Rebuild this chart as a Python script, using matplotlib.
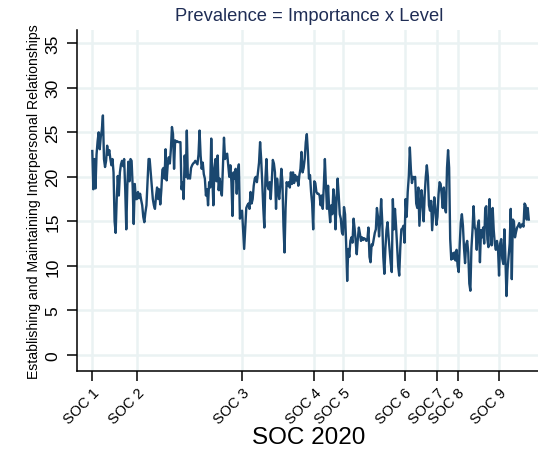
import numpy as np
import matplotlib
matplotlib.use("Agg")
import matplotlib.pyplot as plt

plt.rcParams['font.family'] = ['Liberation Sans', 'DejaVu Sans']

# Prevalence scores for each SOC 2020 unit group, ordered by code, one list per major group
soc1 = [22.9, 18.6, 22.0, 18.7, 22.5, 24.0, 25.0, 23.1, 24.5, 25.3, 26.9, 22.0, 21.1, 21.8,
        23.5, 22.5, 23.0, 22.0, 21.3, 22.0, 20.5, 15.0, 13.7, 17.5, 20.1, 17.9, 20.5, 21.4,
        21.8, 21.2, 22.0, 18.6, 14.1, 19.0, 21.7, 19.5, 22.0, 21.8, 19.0, 14.7, 19.2, 17.5]
soc2 = [17.5, 18.3, 17.6, 18.1, 17.4, 16.8, 15.5, 14.9, 16.0, 16.8, 19.5, 22.0,
        22.0, 20.5, 19.0, 17.5, 16.8, 16.4, 17.8, 18.8, 17.5, 18.6, 16.9, 18.5, 20.8, 21.0,
        19.8, 23.1, 19.6, 21.3, 22.2, 21.5, 23.1, 25.6, 24.8, 20.9, 24.1, 23.9, 24.0, 23.9,
        23.9, 23.9, 18.6, 19.4, 17.5, 22.4, 20.0, 25.2, 19.8, 20.2, 19.8, 21.0, 21.3, 21.5,
        21.6, 21.8, 21.6, 21.4, 22.5, 25.2, 22.4, 20.9, 21.6, 20.3, 19.8, 17.9, 18.6, 16.8,
        19.4, 18.8, 24.3,
        20.0, 16.8, 21.0, 22.0, 19.5, 22.4, 18.5, 19.8, 18.5, 17.9, 21.3, 24.4, 22.0, 22.5,
        22.6, 21.3, 20.0, 21.3, 19.4, 15.6, 20.5, 19.8, 20.9, 18.1, 20.5, 21.4, 15.3, 16.0]
soc3 = [16.2, 14.0, 11.9, 14.1, 16.5, 16.8, 17.0, 16.4, 18.3, 17.0, 17.5, 19.0, 19.8, 20.0,
        19.4, 20.5, 21.6, 23.9, 22.0, 19.4, 16.5, 14.3, 19.8, 22.0, 19.0, 18.6, 19.4, 17.5,
        19.5, 21.9, 21.5, 20.5, 16.4, 19.8,
        18.5, 17.5, 19.0, 20.9, 19.5, 14.5, 11.5, 16.5, 19.4, 19.0, 19.4, 18.8, 20.5, 19.2,
        20.5, 19.3, 20.2, 19.6, 20.0, 19.0, 20.2, 20.9, 22.8, 20.5, 21.0, 22.0, 23.9, 24.8,
        22.8, 19.8, 20.2, 18.3, 17.0, 14.1]
soc4 = [19.5, 19.3, 18.3, 18.1, 18.1, 17.9, 16.8, 17.9, 16.4, 19.0, 22.0, 19.0, 16.4, 19.0,
        16.4, 14.9, 16.8, 15.8, 18.6, 17.5, 14.1, 17.5, 19.8, 18.0, 15.8, 15.3, 13.8]
soc5 = [13.5, 16.6, 15.8, 12.6, 8.3, 11.9, 11.0, 12.8, 13.2, 12.6, 15.3, 14.2, 12.8, 11.3,
        13.0, 14.3, 13.6, 12.8, 13.2, 12.9, 13.1, 13.0, 12.8, 12.9, 14.3, 11.0, 10.4, 12.4,
        12.3, 13.0, 13.7, 14.1, 16.5, 15.5, 13.3, 15.0, 17.5, 15.0, 11.0, 9.1, 12.0, 14.0,
        14.9, 13.2, 11.8, 10.3, 9.3, 17.5, 14.1, 16.4, 14.5, 12.3, 10.0, 8.9, 12.0, 14.1,
        14.2, 14.5]
soc6 = [12.6, 17.5, 15.5, 18.3, 20.0, 23.3, 20.8, 19.3, 20.0, 19.8, 20.0, 17.0, 16.5, 18.8,
        14.5, 16.5, 18.5, 17.2, 15.0, 18.0, 20.0, 21.3, 20.0, 16.8, 16.2, 17.3, 14.0, 15.8,
        17.7, 16.5, 14.6]
soc7 = [15.5, 18.0, 19.4, 19.2, 18.0, 16.5, 18.8, 16.5, 16.0, 21.0, 23.0, 21.0, 13.0, 10.7,
        11.4, 10.8, 11.5, 10.6, 11.8]
soc8 = [10.0, 9.3, 12.5, 14.9, 15.8, 14.5, 12.0, 10.3, 12.4, 12.8, 11.5, 8.0, 7.2, 12.0,
        14.0, 16.7, 14.4, 14.0, 11.8, 14.5, 15.1, 10.4, 14.0, 13.2, 14.3, 12.5, 16.5, 16.7,
        13.0, 12.1, 17.5, 14.5, 12.3, 16.5, 14.0, 12.5, 11.8, 12.8, 12.0]
soc9 = [8.9, 12.5, 13.0, 10.8, 10.2, 14.1, 10.8, 6.6, 9.6, 11.0, 12.5, 16.4, 8.5, 15.2,
        15.0, 13.2, 13.8, 14.3, 14.5, 14.8, 14.3, 14.5, 14.7, 14.4, 17.0, 16.8, 15.2, 16.5,
        15.2]

groups = [soc1, soc2, soc3, soc4, soc5, soc6, soc7, soc8, soc9]
group_labels = ["SOC 1", "SOC 2", "SOC 3", "SOC 4", "SOC 5",
                "SOC 6", "SOC 7", "SOC 8", "SOC 9"]
y_ticks = [0, 5, 10, 15, 20, 25, 30, 35]

values = np.concatenate([np.asarray(g, dtype=float) for g in groups])
rank = np.arange(1, len(values) + 1)
sizes = np.array([len(g) for g in groups])
group_start = 1 + np.concatenate([[0], np.cumsum(sizes)[:-1]])

fig = plt.figure(figsize=(5.38, 4.56), dpi=100)
ax = fig.add_axes([77 / 538, 84 / 456, 464 / 538, 341 / 456])

grid_col = "#eaf2f3"
for g in group_start:
    ax.axvline(g, color=grid_col, lw=1.8, zorder=0)
for t in y_ticks:
    ax.axhline(t, color=grid_col, lw=1.8, zorder=0)

ax.plot(rank, values, color="#1a476f", lw=1.7, solid_joinstyle="round", zorder=3)

ax.set_xlim(-13.4, 423.5)
ax.set_ylim(-1.82, 36.5)

ax.set_xticks(group_start)
ax.set_xticklabels(group_labels, rotation=45, ha="right", va="top",
                   rotation_mode="anchor", fontsize=10.5)
ax.set_yticks(y_ticks)
ax.set_yticklabels([str(t) for t in y_ticks], rotation=90, va="center", fontsize=12.5)
ax.tick_params(axis="both", length=7, width=1.1, color="black")
ax.tick_params(axis="x", pad=3)
ax.tick_params(axis="y", pad=5)

for side in ("top", "right"):
    ax.spines[side].set_visible(False)
for side in ("left", "bottom"):
    ax.spines[side].set_linewidth(1.1)

ax.set_xlabel("SOC 2020", fontsize=17.5, labelpad=0)
ax.set_ylabel("Establishing and Maintaining Interpersonal Relationships",
              fontsize=10.1, labelpad=3)
ax.set_title("Prevalence = Importance x Level", fontsize=13.2, color="#1f2d55", pad=7)

fig.savefig("out.png", dpi=100)
